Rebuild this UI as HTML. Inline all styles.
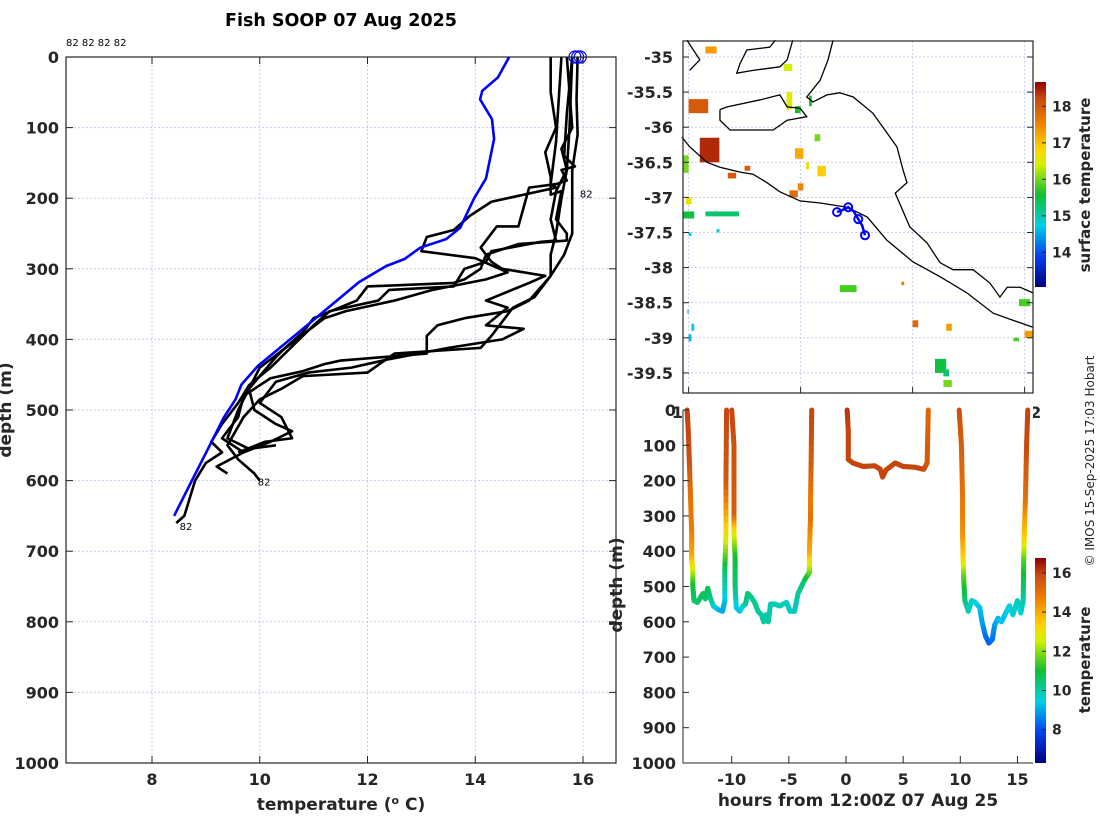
<!DOCTYPE html>
<html><head><meta charset="utf-8"><style>
body{margin:0;background:#fff}
svg{display:block;font-family:"DejaVu Sans","Liberation Sans",sans-serif}
.tk{font-weight:bold;font-size:16px;fill:#262626}
.lab{font-weight:bold;font-size:17px;fill:#262626}
</style></head><body>
<svg id="s" width="1100" height="820" viewBox="0 0 1100 820">
<defs>
<linearGradient id="jet" x1="0" y1="1" x2="0" y2="0">
<stop offset="0" stop-color="#00007f"/><stop offset="0.15" stop-color="#0040f0"/><stop offset="0.3" stop-color="#00d0e8"/><stop offset="0.45" stop-color="#10c030"/><stop offset="0.6" stop-color="#d8f000"/><stop offset="0.68" stop-color="#ffd000"/><stop offset="0.8" stop-color="#f08000"/><stop offset="0.92" stop-color="#c84810"/><stop offset="1" stop-color="#900000"/>
</linearGradient>
</defs>
<text x="341" y="26" text-anchor="middle" style="font-weight:bold;font-size:17.5px">Fish SOOP 07 Aug 2025</text>
<g id="left"></g>
<g id="map"></g>
<g id="ts"></g>
<text transform="translate(1094,461) rotate(-90)" text-anchor="middle" style="font-size:12px;fill:#262626">© IMOS 15-Sep-2025 17:03 Hobart</text>
</svg>
<script>
// ---------- data ----------
const blueTemp=[14.63,14.42,14.13,14.09,14.31,14.35,14.2,13.98,13.72,13.46,12.98,12.69,12.35,11.84,11.43,10.69,9.96,9.66,9.55,9.33,9.0,8.74,8.41];
const blueDepth=[0,29,48,60,88,116,172,200,242,258,270,286,296,319,345,392,438,464,485,511,561,600,650];
const prof1=[[15.9,0],[15.88,60],[15.9,110],[15.8,160],[15.8,250],[15.65,280],[15.4,310],[15.1,340],[14.7,355],[14.3,395],[14.1,412],[12.5,420],[12.0,447],[10.8,452],[10.4,470],[10.0,485],[9.7,510],[9.4,550],[9.6,570],[9.9,590],[10.0,600]];
const prof2=[[15.8,0],[15.75,100],[15.7,160],[15.5,190],[15.4,230],[15.5,260],[15.2,262],[14.3,275],[14.2,290],[13.8,300],[13.6,325],[12.4,330],[12.2,345],[11.3,360],[11.0,380],[10.6,410],[10.2,440],[9.8,465],[9.6,490],[9.3,520],[9.1,545],[9.3,560],[9.0,575],[8.8,600],[8.7,625],[8.6,650],[8.45,660]];
const prof3=[[15.6,0],[15.5,120],[15.4,180],[15.5,185],[14.3,205],[13.9,225],[13.6,245],[13.1,255],[13.0,275],[14.0,285],[14.6,305],[14.2,315],[13.2,330],[12.5,345],[11.6,360],[11.2,370],[10.6,405],[10.0,440],[9.8,470],[9.6,500],[9.4,540],[9.8,555],[10.3,550]];
const prof4=[[15.4,0],[15.4,50],[15.5,100],[15.3,135],[15.4,170],[15.4,195],[15.6,190],[15.5,230],[15.7,250],[15.7,260],[14.8,265],[14.6,270],[14.2,280],[14.1,300],[13.8,315],[13.6,320],[12.0,325],[11.8,345],[11.0,370],[10.8,390],[10.5,410],[10.3,425],[9.8,470],[9.9,500],[10.3,520],[10.6,530],[10.2,545],[9.7,560]];
const prof5=[[15.7,0],[15.8,100],[15.6,130],[15.7,160],[15.6,200],[15.5,250],[15.4,280],[15.4,310],[15.0,345],[14.6,360],[13.8,370],[13.3,380],[13.1,395],[13.1,420],[12.3,425],[11.5,430],[11.2,435],[10.8,445],[10.2,455],[9.7,480],[9.6,510],[9.3,540],[9.7,560],[9.2,580],[9.4,590]];
const prof6=[[15.8,0],[15.7,80],[15.65,140],[15.85,155],[15.6,160],[15.7,175],[15.5,180],[15.0,185],[14.8,240],[14.4,240],[14.1,270],[14.3,290],[14.5,300],[15.3,310],[15.0,320],[14.2,345],[14.6,355],[14.2,380],[14.9,385],[14.5,400],[13.5,412],[12.4,428],[11.7,440],[10.9,447],[10.3,460],[10.0,490],[10.4,510],[10.6,540],[10.1,545],[9.6,560]];
const profiles=[prof1,prof2,prof3,prof4,prof5,prof6];
const surfTemps=[15.85,15.9,15.95];
const tempTicks=[8,10,12,14,16];
const depthTicks=[0,100,200,300,400,500,600,700,800,900,1000];

const coastSouth=[[135.88,-36.14],[136.02,-36.28],[136.33,-36.50],[136.56,-36.57],[136.92,-36.64],[137.15,-36.67],[137.40,-36.79],[137.63,-36.92],[137.99,-37.05],[138.35,-37.08],[138.83,-37.14],[139.19,-37.28],[139.54,-37.61],[140.01,-37.92],[140.49,-38.13],[140.97,-38.36],[141.44,-38.65],[141.79,-38.75],[142.15,-38.85]];
const coastNorth=[[138.58,-34.76],[138.49,-35.04],[138.35,-35.33],[138.11,-35.57],[138.22,-35.64],[138.47,-35.54],[138.70,-35.51],[138.94,-35.57],[139.29,-35.80],[139.72,-36.28],[139.83,-36.61],[139.90,-36.79],[139.69,-36.94],[139.95,-37.42],[140.26,-37.65],[140.49,-37.93],[140.72,-38.03],[141.08,-38.03],[141.38,-38.22],[141.56,-38.42],[141.69,-38.28],[141.92,-38.28],[142.15,-38.36]];
const kangarooIsland=[[136.56,-35.75],[136.69,-35.71],[137.28,-35.61],[137.63,-35.54],[137.76,-35.71],[137.99,-35.73],[138.11,-35.85],[137.76,-35.90],[137.51,-36.04],[137.15,-36.04],[136.74,-36.04],[136.56,-35.90],[136.56,-35.75]];
const yorke=[[137.86,-34.76],[137.76,-35.04],[137.63,-35.14],[137.15,-35.19],[136.86,-35.23],[136.92,-35.09],[137.04,-34.90],[137.45,-34.86],[137.55,-34.76]];
const eyre=[[135.97,-34.76],[136.20,-35.04],[136.02,-35.19]];
const trackLon=[138.65,138.75,138.85,138.95,139.03,139.1,139.15];
const trackLat=[-37.21,-37.18,-37.14,-37.2,-37.31,-37.4,-37.54];
const trackMarks=[0,2,4,6];
const sstLon0=[136.2,136.0,136.3,135.9,135.9,136.3,137.0,136.7,137.9,137.95,138.1,138.3,137.75,137.7,138.15,138.25,135.95,136.0,136.05,139.8,140.0,140.6,140.4,140.55,140.55,141.9,142.0,141.8,135.98,136.0,136.5,138.7,137.8,137.9];
const sstLat0=[-36.15,-35.6,-34.85,-36.4,-37.2,-37.2,-36.55,-36.65,-36.3,-36.8,-36.5,-36.55,-35.5,-35.1,-35.55,-36.1,-37.0,-37.5,-38.8,-38.2,-38.75,-38.8,-39.3,-39.45,-39.6,-38.45,-38.9,-39.0,-38.6,-38.95,-37.45,-38.25,-36.9,-35.7];
const sstLon1=[136.55,136.35,136.5,136.0,136.1,136.9,137.1,136.85,138.05,138.05,138.15,138.45,137.85,137.85,138.2,138.35,136.05,136.05,136.1,139.85,140.1,140.7,140.6,140.65,140.7,142.1,142.15,141.9,136.0,136.05,136.55,139.0,137.95,138.0];
const sstLat1=[-36.5,-35.8,-34.95,-36.65,-37.3,-37.27,-36.62,-36.73,-36.45,-36.9,-36.6,-36.7,-35.75,-35.2,-35.7,-36.2,-37.1,-37.55,-38.9,-38.25,-38.85,-38.9,-39.5,-39.55,-39.7,-38.55,-39.0,-39.05,-38.65,-39.05,-37.5,-38.35,-37.0,-35.8];
const sstTemp=[18.4,18.0,17.3,16.0,15.5,15.3,18.0,18.0,17.2,17.5,16.7,16.9,16.5,16.4,15.6,16.0,16.6,14.8,14.7,17.6,17.8,17.3,15.5,15.3,16.0,15.8,17.3,15.8,14.3,14.6,14.8,15.8,17.8,15.6];
const latTicks=[-35,-35.5,-36,-36.5,-37,-37.5,-38,-38.5,-39,-39.5];
const lonTicks=[136,138,140,142];
const sstTicks=[14,15,16,17,18];

const hrs=[[-13.9,0],[-13.8,60],[-13.7,150],[-13.6,250],[-13.5,350],[-13.5,420],[-13.4,460],[-13.4,500],[-13.3,540],[-13.0,545],[-12.7,530],[-12.5,520],[-12.3,535],[-12.1,505],[-11.9,530],[-11.6,555],[-11.2,565],[-10.8,570],[-10.6,540],[-10.6,450],[-10.5,350],[-10.5,200],[-10.45,0]];
const tmp1=[16,16,15.8,15,14.8,14,12.5,11,10.5,10.5,10.6,10.8,10.4,10.8,10.4,9.8,9.3,9,9.2,10.5,13,15.6,16];
const hrs2=[[-10.0,0],[-9.8,100],[-9.8,300],[-9.8,350],[-9.7,420],[-9.7,500],[-9.6,560],[-9.3,570],[-9.0,555],[-8.8,550],[-8.6,520],[-8.3,530],[-8.0,545],[-7.7,570],[-7.4,580],[-7.2,600],[-7.0,580],[-6.8,600],[-6.6,550],[-6.2,550],[-5.8,555],[-5.2,545],[-4.9,570],[-4.5,570],[-4.2,520],[-3.6,480],[-3.2,460],[-3.2,400],[-3.1,300],[-3.1,250],[-3.05,150],[-3.0,0]];
const tmp2=[16,15.8,15.5,13,11,10.5,9.5,9.3,9.5,10,10.5,10.3,10.2,10.1,10,10.1,10,10.1,9.9,9.9,9.9,9.8,9.8,9.8,10,10.5,11.5,14,15,14.8,15.5,16];
const hrs3=[[0.1,0],[0.2,60],[0.2,140],[0.6,150],[1.5,160],[2.5,158],[3.0,168],[3.2,190],[3.5,170],[4.3,150],[5.0,160],[6.0,162],[6.8,168],[7.1,150],[7.2,0]];
const tmp3=[16.2,16,16,16,16,16,16,16,16,16,16,16,16,15.6,15.3];
const hrs4=[[9.9,0],[10.1,100],[10.2,250],[10.2,350],[10.25,420],[10.3,480],[10.4,540],[10.7,570],[11.0,540],[11.3,545],[11.7,560],[11.9,600],[12.2,640],[12.5,660],[12.8,650],[13.0,610],[13.3,590],[13.6,600],[13.9,580],[14.3,555],[14.6,580],[15.0,540],[15.3,575],[15.5,540],[15.55,420],[15.6,350],[15.7,250],[15.8,100],[15.9,0]];
const tmp4=[15.8,15.5,15,14.5,13.5,11.5,10.5,9.8,9.8,9.6,9.3,9,8.5,8.2,8.4,8.8,9.2,9.3,9.3,9.5,9.6,9.8,9.6,10,11.5,13.5,15,15.9,16];
const hourTicks=[-10,-5,0,5,10,15];
const tsDepthTicks=[0,100,200,300,400,500,600,700,800,900,1000];
const cbTicks=[8,10,12,14,16];

// ---------- helpers ----------
const NS="http://www.w3.org/2000/svg";
function mk(p,t,a){const e=document.createElementNS(NS,t);for(const k in a)e.setAttribute(k,a[k]);p.appendChild(e);return e;}
const cmStops=[[0,0,0,127],[0.15,0,64,240],[0.3,0,208,232],[0.45,16,192,48],[0.6,216,240,0],[0.68,255,208,0],[0.8,240,128,0],[0.92,200,72,16],[1,144,0,0]];
function jet(t){t=Math.max(0,Math.min(1,t));for(let i=0;i<cmStops.length-1;i++){const a=cmStops[i],b=cmStops[i+1];
 if(t<=b[0]){const f=(t-a[0])/(b[0]-a[0]);return `rgb(${Math.round(a[1]+(b[1]-a[1])*f)},${Math.round(a[2]+(b[2]-a[2])*f)},${Math.round(a[3]+(b[3]-a[3])*f)})`;}}
 return 'rgb(144,0,0)';}

// ---------- left profile panel ----------
const L=document.getElementById('left');
const lx=t=>152+(t-8)*53.875, ly=d=>57+d*0.706;
tempTicks.forEach(t=>{const g=mk(L,'line',{x1:lx(t),x2:lx(t),y1:57,y2:763,stroke:'#c8cce8','stroke-dasharray':'2,2'});
});
depthTicks.forEach(d=>{const g=mk(L,'line',{x1:66,x2:616,y1:ly(d),y2:ly(d),stroke:'#c8cce8','stroke-dasharray':'2,2'});
});
profiles.forEach((p,i)=>{const e=mk(L,'polyline',{points:p.map(q=>lx(q[0])+','+ly(q[1])).join(' '),fill:'none',stroke:'#000','stroke-width':2.6,'stroke-linejoin':'round'});
});
{const e=mk(L,'polyline',{points:blueTemp.map((t,i)=>lx(t)+','+ly(blueDepth[i])).join(' '),fill:'none',stroke:'#0000ff','stroke-width':2.6});
}
surfTemps.forEach(t=>{const e=mk(L,'circle',{cx:lx(t),cy:ly(0),r:6,fill:'none',stroke:'#0000ff','stroke-width':1.2});
});
{const e=mk(L,'rect',{x:66,y:57,width:550,height:706,fill:'none',stroke:'#262626','stroke-width':1.2});
}
tempTicks.forEach(t=>{mk(L,'line',{x1:lx(t),x2:lx(t),y1:763,y2:756,stroke:'#262626'});mk(L,'line',{x1:lx(t),x2:lx(t),y1:57,y2:64,stroke:'#262626'});
const e=mk(L,'text',{x:lx(t),y:785,'text-anchor':'middle',class:'tk'});e.textContent=t;
});
depthTicks.forEach(d=>{mk(L,'line',{x1:66,x2:73,y1:ly(d),y2:ly(d),stroke:'#262626'});mk(L,'line',{x1:616,x2:609,y1:ly(d),y2:ly(d),stroke:'#262626'});
const e=mk(L,'text',{x:59,y:ly(d)+6,'text-anchor':'end',class:'tk'});e.textContent=d;
});
{const e=mk(L,'text',{x:341,y:810,'text-anchor':'middle',class:'lab'});e.innerHTML='temperature (<tspan dy="-6" font-size="11">o</tspan><tspan dy="6"> C)</tspan>';
}
{const e=mk(L,'text',{transform:'translate(11,410) rotate(-90)','text-anchor':'middle',class:'lab'});e.textContent='depth (m)';
}
{const e=mk(L,'text',{x:66,y:46,'font-size':'10'});e.textContent='82 82 82 82';
}
[[15.98,192],[10.0,600],[8.55,663]].forEach(p=>{const e=mk(L,'text',{x:lx(p[0])-2,y:ly(p[1])+5,'font-size':'10'});e.textContent='82';
});

// ---------- map panel ----------
const M=document.getElementById('map');
const mx=lo=>683+(lo-135.9)*56, my=la=>57-(la+35)*70.2;
lonTicks.forEach(l=>{const e=mk(M,'line',{x1:mx(l),x2:mx(l),y1:41,y2:393,stroke:'#c8cce8','stroke-dasharray':'2,2'});
});
latTicks.forEach(l=>{const e=mk(M,'line',{x1:683,x2:1033,y1:my(l),y2:my(l),stroke:'#c8cce8','stroke-dasharray':'2,2'});
});
sstTemp.forEach((t,i)=>{const e=mk(M,'rect',{x:mx(sstLon0[i]),y:my(sstLat0[i]),width:mx(sstLon1[i])-mx(sstLon0[i]),height:my(sstLat1[i])-my(sstLat0[i]),fill:jet((t-13.05)/(18.66-13.05))});
});
[coastSouth,coastNorth,kangarooIsland,yorke,eyre].forEach((c,i)=>{const e=mk(M,'polyline',{points:c.map(q=>mx(q[0])+','+my(q[1])).join(' '),fill:'none',stroke:'#000','stroke-width':1.3});
});
{const e=mk(M,'polyline',{points:trackLon.map((l,i)=>mx(l)+','+my(trackLat[i])).join(' '),fill:'none',stroke:'#0000ff','stroke-width':2.5});
}
trackMarks.forEach(i=>{const e=mk(M,'circle',{cx:mx(trackLon[i]),cy:my(trackLat[i]),r:4,fill:'none',stroke:'#0000ff','stroke-width':2});
});
{const e=mk(M,'rect',{x:683,y:41,width:350,height:352,fill:'none',stroke:'#262626','stroke-width':1.2});
}
latTicks.forEach(l=>{mk(M,'line',{x1:683,x2:689,y1:my(l),y2:my(l),stroke:'#262626'});mk(M,'line',{x1:1033,x2:1027,y1:my(l),y2:my(l),stroke:'#262626'});
const e=mk(M,'text',{x:673,y:my(l)+6,'text-anchor':'end',class:'tk'});e.textContent=l;
});
lonTicks.forEach(l=>{mk(M,'line',{x1:mx(l),x2:mx(l),y1:393,y2:387,stroke:'#262626'});
const e=mk(M,'text',{x:mx(l),y:418,'text-anchor':'middle',class:'tk'});e.textContent=l;
});
const cbY=t=>287-(t-13.05)*36.5;
{const e=mk(M,'rect',{x:1035,y:82,width:11,height:205,fill:'url(#jet)'});
}
sstTicks.forEach(t=>{mk(M,'line',{x1:1046,x2:1042,y1:cbY(t),y2:cbY(t),stroke:'#262626'});
const e=mk(M,'text',{x:1052,y:cbY(t)+5});e.setAttribute('style','font-weight:bold;font-size:14px;fill:#262626');e.textContent=t;
});
{const e=mk(M,'text',{transform:'translate(1090,185) rotate(-90)','text-anchor':'middle',class:'lab'});e.style.fontSize='15px';e.textContent='surface temperature';
}

// ---------- time series panel ----------
const T=document.getElementById('ts');
const hx=h=>846+h*11.43, hy=d=>410+d*0.353;
{const e=mk(T,'rect',{x:683,y:403,width:350,height:360,fill:'#fff'});
}
const cbMin=6.3,cbMax=16.8;
[[hrs,tmp1],[hrs2,tmp2],[hrs3,tmp3],[hrs4,tmp4]].forEach((s,k)=>{const g=mk(T,'g',{});

const p=s[0],tt=s[1];for(let i=0;i<p.length-1;i++){const n=8;for(let j=0;j<n;j++){const a=j/n,b=(j+1)/n;
const h0=p[i][0]+(p[i+1][0]-p[i][0])*a,h1=p[i][0]+(p[i+1][0]-p[i][0])*b,d0=p[i][1]+(p[i+1][1]-p[i][1])*a,d1=p[i][1]+(p[i+1][1]-p[i][1])*b,tv=tt[i]+(tt[i+1]-tt[i])*(a+b)/2;
mk(g,'line',{x1:hx(h0),y1:hy(d0),x2:hx(h1),y2:hy(d1),stroke:jet((tv-cbMin)/(cbMax-cbMin)),'stroke-width':5,'stroke-linecap':'round'});}}});
mk(T,'line',{x1:683,x2:683,y1:410,y2:763,stroke:'#262626'});
mk(T,'line',{x1:683,x2:1033,y1:763,y2:763,stroke:'#262626'});
hourTicks.forEach(h=>{mk(T,'line',{x1:hx(h),x2:hx(h),y1:763,y2:756,stroke:'#262626'});
const e=mk(T,'text',{x:hx(h),y:785,'text-anchor':'middle',class:'tk'});e.textContent=h;
});
tsDepthTicks.forEach(d=>{mk(T,'line',{x1:683,x2:689,y1:hy(d),y2:hy(d),stroke:'#262626'});
const e=mk(T,'text',{x:676,y:hy(d)+6,'text-anchor':'end',class:'tk'});e.textContent=d;
});
{const e=mk(T,'text',{x:858,y:806,'text-anchor':'middle',class:'lab'});e.textContent='hours from 12:00Z 07 Aug 25';
}
{const e=mk(T,'text',{transform:'translate(622,585) rotate(-90)','text-anchor':'middle',class:'lab'});e.textContent='depth (m)';
}
const cb2Y=t=>763-(t-cbMin)*19.6;
{const e=mk(T,'rect',{x:1035,y:558,width:11,height:205,fill:'url(#jet)'});
}
cbTicks.forEach(t=>{mk(T,'line',{x1:1046,x2:1042,y1:cb2Y(t),y2:cb2Y(t),stroke:'#262626'});
const e=mk(T,'text',{x:1052,y:cb2Y(t)+5});e.setAttribute('style','font-weight:bold;font-size:14px;fill:#262626');e.textContent=t;
});
{const e=mk(T,'text',{transform:'translate(1090,660) rotate(-90)','text-anchor':'middle',class:'lab'});e.style.fontSize='15px';e.textContent='temperature';
}
</script>
</body></html>
